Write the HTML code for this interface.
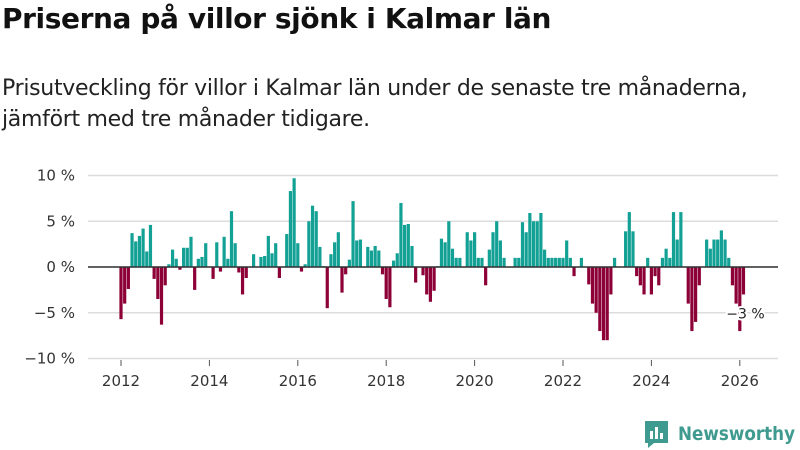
<!DOCTYPE html>
<html><head><meta charset="utf-8"><style>
body{margin:0;width:800px;height:450px;background:#fff;font-family:"Liberation Sans","DejaVu Sans",sans-serif;overflow:hidden}
h1{position:absolute;left:2px;top:2px;margin:0;font-size:28px;font-weight:bold;color:#111;font-family:"DejaVu Sans",sans-serif;letter-spacing:-0.4px}
p{position:absolute;left:2px;top:73px;margin:0;font-size:22px;line-height:31px;color:#222;font-family:"DejaVu Sans",sans-serif;letter-spacing:-0.3px}
svg{position:absolute;left:0;top:0}
</style></head><body>
<h1>Priserna på villor sjönk i Kalmar län</h1>
<p>Prisutveckling för villor i Kalmar län under de senaste tre månaderna,<br>jämfört med tre månader tidigare.</p>
<svg id="chart" width="800" height="450"></svg>
<script>
const startYear = 2012;
const values = [-5.7,-4.0,-2.4,3.7,2.8,3.4,4.2,1.7,4.6,-1.3,-3.5,-6.3,-2.0,0.3,1.9,0.9,-0.3,2.1,2.1,3.3,-2.5,0.9,1.1,2.6,0,-1.3,2.7,-0.5,3.3,0.9,6.1,2.6,-0.6,-3.0,-1.2,0,1.4,0,1.1,1.2,3.4,1.5,2.6,-1.2,
0,3.6,8.3,9.7,2.6,-0.5,0.3,5.0,6.7,6.1,2.2,0.1,-4.5,1.4,2.7,3.8,-2.8,-0.8,0.8,7.2,2.9,3.0,0,2.2,1.8,2.3,1.8,-0.8,-3.5,-4.4,0.7,1.5,7.0,4.6,4.7,2.3,-1.7,0,-0.9,-3.0,-3.8,-2.6,0.1,
3.1,2.7,5.0,2.0,1.0,1.0,0,3.8,2.9,3.8,1.0,1.0,-2.0,1.9,3.8,5.0,2.9,1.0,0,0,1.0,1.0,4.9,3.8,5.9,5.0,5.0,5.9,1.9,1.0,1.0,1.0,1.0,1.0,2.9,1.0,-1.0,0,1.0,0,-1.9,
-4.0,-5.0,-7.0,-8.0,-8.0,-3.0,1.0,0,0,3.9,6.0,3.9,-1.0,-2.0,-3.0,1.0,-3.0,-1.0,-2.0,1.0,2.0,1.0,6.0,3.0,6.0,0,-4.0,-7.0,-6.0,-2.0,0,3.0,2.0,3.0,3.0,4.0,3.0,1.0,-2.0,-4.0,-7.0,-3.0];
const yTicks = [10,5,0,-5,-10];
const yTickLabels = ["10 %","5 %","0 %","−5 %","−10 %"];
const xTicks = [2012,2014,2016,2018,2020,2022,2024,2026];
const lastLabel = "−3 %";

const NS="http://www.w3.org/2000/svg";
const svg=document.getElementById('chart');
const x=t=>121+(t-2012)*44.2;
const y=v=>267-v*9.15;
function mk(tag,attrs,parent){const e=document.createElementNS(NS,tag);for(const k in attrs)e.setAttribute(k,attrs[k]);(parent||svg).appendChild(e);return e;}
yTicks.forEach((t,i)=>{
  const g=mk('line',{x1:88,x2:778,y1:y(t),y2:y(t),stroke:'#dcdcdc','stroke-width':1.5});
  
  
  const l=mk('text',{x:75,y:y(t)+5,'text-anchor':'end','font-size':15,fill:'#333','font-family':'DejaVu Sans,sans-serif'});
  l.textContent=yTickLabels[i];
  
  
});
xTicks.forEach(t=>{
  const tk=mk('line',{x1:x(t),x2:x(t),y1:360,y2:366,stroke:'#555','stroke-width':1});
  
  
  const l=mk('text',{x:x(t),y:386,'text-anchor':'middle','font-size':15,fill:'#333','font-family':'DejaVu Sans,sans-serif'});
  l.textContent=t;
  
  
});
values.forEach((v,i)=>{
  const cx=x(startYear+i/12);
  const r=mk('rect',{x:cx-1.6,width:3.2,y:Math.min(y(v),y(0)),height:Math.abs(y(v)-y(0)),fill:v>=0?'#13a095':'#8c0037'});
  
  
});
const z=mk('line',{x1:88,x2:778,y1:y(0),y2:y(0),stroke:'#333','stroke-width':1.5});


const lx=x(startYear+(values.length-1)/12);
const lab=mk('text',{x:lx+2,y:y(values[values.length-1])+24,'text-anchor':'middle','font-size':14,fill:'#222',stroke:'#fff','stroke-width':4,'paint-order':'stroke','font-family':'DejaVu Sans,sans-serif'});
lab.textContent=lastLabel;


// logo
const lg=mk('g',{});


mk('path',{d:'M645 421 h23 v22 h-14 l-6 5 v-5 h-3 z',fill:'#3f9a8f'},lg);
mk('rect',{x:650,y:431,width:3,height:8,fill:'#fff'},lg);
mk('rect',{x:655,y:427,width:3,height:12,fill:'#fff'},lg);
mk('rect',{x:660,y:433,width:3,height:6,fill:'#fff'},lg);
const lt=mk('text',{x:678,y:440,'font-size':19,'font-weight':'bold',fill:'#3f9a8f','font-family':'DejaVu Sans,sans-serif',textLength:117,lengthAdjust:'spacingAndGlyphs'},lg);
lt.textContent='Newsworthy';
</script>
</body></html>
